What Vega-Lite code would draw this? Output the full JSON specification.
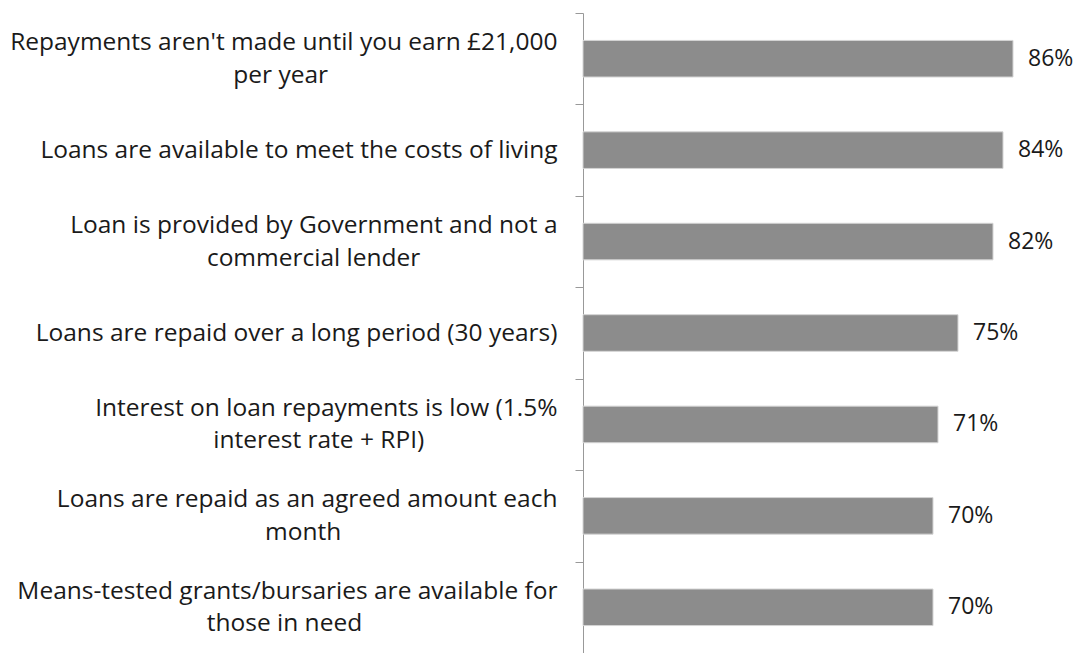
{
  "$schema": "https://vega.github.io/schema/vega-lite/v6.json",
  "autosize": {"type": "none"},
  "padding": {"left": 583, "top": 13, "right": 0, "bottom": 0},
  "width": 492,
  "height": 640,
  "background": "white",
  "config": {"view": {"stroke": null}, "font": "Open Sans"},
  "data": {
    "values": [
      {"label": "Repayments aren't made until you earn £21,000|per year", "value": 0.86},
      {"label": "Loans are available to meet the costs of living", "value": 0.84},
      {"label": "Loan is provided by Government and not a|commercial lender", "value": 0.82},
      {"label": "Loans are repaid over a long period (30 years)", "value": 0.75},
      {"label": "Interest on loan repayments is low (1.5%|interest rate + RPI)", "value": 0.71},
      {"label": "Loans are repaid as an agreed amount each|month", "value": 0.70},
      {"label": "Means-tested grants/bursaries are available for|those in need", "value": 0.70}
    ]
  },
  "resolve": {"axis": {"y": "independent"}},
  "layer": [
    {
      "mark": {"type": "bar", "color": "#8c8c8c", "stroke": "#d4d4d4", "strokeWidth": 1, "height": {"band": 0.4}},
      "encoding": {
        "y": {
          "field": "label",
          "type": "nominal",
          "sort": null,
          "scale": {"paddingInner": 0, "paddingOuter": 0},
          "axis": {
            "orient": "left",
            "title": null,
            "labelExpr": "datum.value ? split(datum.value, '|')[0] : ''",
            "labelFont": "Open Sans",
            "labelFontSize": 24.5,
            "labelColor": "#1a1a1a",
            "labelAlign": "right",
            "labelBaseline": "middle",
            "labelPadding": 18,
            "labelLimit": 0,
            "tickBand": "extent",
            "tickSize": 8,
            "tickColor": "#999999",
            "domainColor": "#999999",
            "domainWidth": 1,
            "tickWidth": 1,
            "grid": false,
            "encoding": {
              "labels": {
                "dy": {"value": {"expr": "datum.value && indexof(datum.value, '|') >= 0 ? -16 : 0"}}
              }
            }
          }
        },
        "x": {
          "field": "value",
          "type": "quantitative",
          "scale": {"domain": [0, 0.984], "nice": false, "zero": true},
          "axis": null
        }
      }
    },
    {
      "mark": {"type": "text", "align": "left", "baseline": "middle", "dx": 15, "font": "Open Sans", "fontSize": 23, "color": "#1a1a1a"},
      "encoding": {
        "y": {
          "field": "label",
          "type": "nominal",
          "sort": null,
          "axis": {
            "orient": "left",
            "offset": 0,
            "title": null,
            "labelExpr": "datum.value && indexof(datum.value, '|') >= 0 ? split(datum.value, '|')[1] : ''",
            "labelFont": "Open Sans",
            "labelFontSize": 24.5,
            "labelColor": "#1a1a1a",
            "labelAlign": "center",
            "labelBaseline": "middle",
            "labelPadding": 18,
            "labelLimit": 0,
            "ticks": false,
            "domain": false,
            "grid": false,
            "encoding": {
              "labels": {
                "dy": {"value": 17},
                "dx": {"value": {"expr": "datum.value ? -24.5 * 0.5 * (0.58 * length(split(datum.value, '|')[0]) - 0.28 * length(replace(split(datum.value, '|')[0], regexp(\"[^ ijltfrI'().,/-]\", 'g'), '')) + 0.35 * length(replace(split(datum.value, '|')[0], regexp('[^mwMW%]', 'g'), ''))) - 8 : 0"}}
              }
            }
          }
        },
        "x": {"field": "value", "type": "quantitative"},
        "text": {"field": "value", "type": "quantitative", "format": ".0%"}
      }
    }
  ]
}
